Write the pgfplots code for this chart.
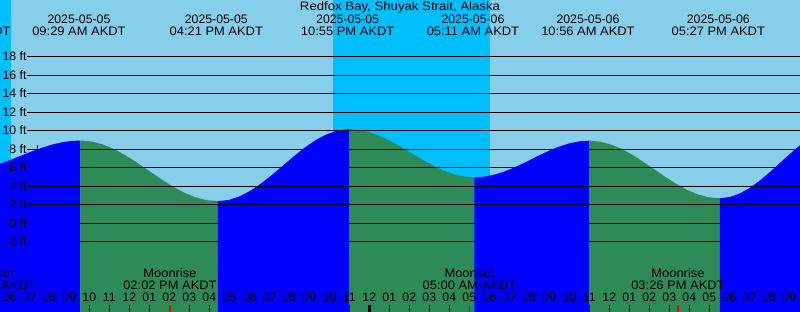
\documentclass[border=0pt]{standalone}
\usepackage{fontspec}
\setmainfont{Liberation Sans}
\usepackage{pgfplots}
\pgfplotsset{compat=1.18}
\definecolor{sky}{HTML}{87CEEB}
\definecolor{deep}{HTML}{00BFFF}
\definecolor{tideblue}{HTML}{0000FF}
\definecolor{tidegreen}{HTML}{2E8B57}
\tikzset{lbl/.style={font=\fontsize{12.3}{14}\selectfont, inner sep=0pt, anchor=base, text=black},
  lblw/.style={lbl, font=\fontsize{12.3}{14}\selectfont\addfontfeatures{FakeStretch=1.05}},
  lblt/.style={lbl, font=\fontsize{12.3}{14}\selectfont\addfontfeatures{FakeStretch=1.073}}}
\begin{document}
\begin{tikzpicture}
\useasboundingbox (0,0) rectangle (800pt,312pt);
\begin{axis}[at={(0,0)}, anchor=south west, scale only axis, width=800pt, height=312pt,
  xmin=5.535, xmax=45.535, ymin=-9.62, ymax=24.11, hide axis, clip=true]
% background and night
\addplot[fill=sky, draw=none] coordinates {(5,-10) (46,-10) (46,25) (5,25)};
\addplot[fill=deep, draw=none] coordinates {(5,-10) (6.085,-10) (6.085,25) (5,25)};
\addplot[fill=deep, draw=none] coordinates {(22.185,-10) (30.035,-10) (30.035,25) (22.185,25)};
% rising 0
\addplot[fill=tideblue, draw=none] coordinates {(3.670,-10) (3.670,5.650) (4.160,5.710) (4.651,5.880) (5.141,6.150) (5.631,6.490) (6.121,6.880) (6.612,7.300) (7.102,7.720) (7.592,8.100) (8.082,8.440) (8.573,8.700) (9.063,8.864) (9.553,8.920) (9.553,-10)};
% falling 1
\addplot[fill=tidegreen, draw=none] coordinates {(9.553,-10) (9.553,8.920) (10.125,8.808) (10.698,8.480) (11.270,7.960) (11.842,7.280) (12.414,6.489) (12.987,5.640) (13.559,4.791) (14.131,4.000) (14.703,3.320) (15.276,2.800) (15.848,2.472) (16.420,2.360) (16.420,-10)};
% rising 2
\addplot[fill=tideblue, draw=none] coordinates {(16.420,-10) (16.420,2.360) (16.967,2.492) (17.515,2.881) (18.062,3.499) (18.609,4.305) (19.156,5.243) (19.704,6.250) (20.251,7.257) (20.798,8.195) (21.345,9.001) (21.893,9.619) (22.440,10.008) (22.987,10.140) (22.987,-10)};
% falling 3
\addplot[fill=tidegreen, draw=none] coordinates {(22.987,-10) (22.987,10.140) (23.509,10.052) (24.031,9.792) (24.553,9.379) (25.076,8.840) (25.598,8.213) (26.120,7.540) (26.642,6.867) (27.164,6.240) (27.686,5.701) (28.209,5.288) (28.731,5.028) (29.253,4.940) (29.253,-10)};
% rising 4
\addplot[fill=tideblue, draw=none] coordinates {(29.253,-10) (29.253,4.940) (29.732,5.007) (30.211,5.205) (30.691,5.520) (31.170,5.930) (31.649,6.408) (32.128,6.920) (32.607,7.432) (33.087,7.910) (33.566,8.320) (34.045,8.635) (34.524,8.833) (35.003,8.900) (35.003,-10)};
% falling 5
\addplot[fill=tidegreen, draw=none] coordinates {(35.003,-10) (35.003,8.900) (35.546,8.794) (36.089,8.483) (36.632,7.988) (37.176,7.343) (37.719,6.591) (38.262,5.785) (38.805,4.979) (39.348,4.228) (39.891,3.582) (40.434,3.087) (40.977,2.776) (41.520,2.670) (41.520,-10)};
% rising 6
\addplot[fill=tideblue, draw=none] coordinates {(41.520,-10) (41.520,2.670) (42.024,2.810) (42.528,3.200) (43.033,3.810) (43.537,4.610) (44.041,5.530) (44.545,6.520) (45.049,7.510) (45.553,8.440) (46.058,9.230) (46.562,9.800) (46.562,-10)};
% grid lines
\addplot[black, line width=1pt] coordinates {(6.9,18) (46,18)};
\addplot[black, line width=1pt] coordinates {(6.9,16) (46,16)};
\addplot[black, line width=1pt] coordinates {(6.9,14) (46,14)};
\addplot[black, line width=1pt] coordinates {(6.9,12) (46,12)};
\addplot[black, line width=1pt] coordinates {(6.9,10) (46,10)};
\addplot[black, line width=1pt] coordinates {(6.9,8) (46,8)};
\addplot[black, line width=1pt] coordinates {(6.9,6) (46,6)};
\addplot[black, line width=1pt] coordinates {(6.9,4) (46,4)};
\addplot[black, line width=1pt] coordinates {(6.9,2) (46,2)};
\addplot[black, line width=1pt] coordinates {(6.9,0) (46,0)};
\addplot[black, line width=1pt] coordinates {(6.9,-2) (46,-2)};
\addplot[black, only marks, mark=+, mark size=4.5pt, line width=1pt] coordinates {(7.42,8.0)};
\foreach \v/\t in {18/18 ft,16/16 ft,14/14 ft,12/12 ft,10/10 ft,8/8 ft,6/6 ft,4/4 ft,2/2 ft,0/0 ft,-2/-2 ft}{
  \edef\temp{\noexpand\node[lbl, anchor=base east, yshift=-4.3pt] at (axis cs:6.87,\v) {\t};}
  \temp
}
\end{axis}
\begin{axis}[at={(0,0)}, anchor=south west, scale only axis, width=800pt, height=312pt,
  xmin=5.535, xmax=45.535, ymin=0, ymax=312, hide axis, clip=false]
\addplot[ycomb, mark=none, black, line width=1pt] coordinates {(6,7) (7,7) (8,7) (9,7) (10,7) (11,7) (12,7) (13,7) (14,7) (15,7) (16,7) (17,7) (18,7) (19,7) (20,7) (21,7) (22,7) (23,7) (25,7) (26,7) (27,7) (28,7) (29,7) (30,7) (31,7) (32,7) (33,7) (34,7) (35,7) (36,7) (37,7) (38,7) (39,7) (40,7) (41,7) (42,7) (43,7) (44,7) (45,7)};
\addplot[ycomb, mark=none, black, line width=2.5pt] coordinates {(24,7)};
\addplot[ycomb, mark=none, red, line width=1.3pt] coordinates {(14.033,7) (29.0,7) (39.433,7)};
% hour labels
\node[lbl] at (axis cs:6,10.7) {06};
\node[lbl] at (axis cs:7,10.7) {07};
\node[lbl] at (axis cs:8,10.7) {08};
\node[lbl] at (axis cs:9,10.7) {09};
\node[lbl] at (axis cs:10,10.7) {10};
\node[lbl] at (axis cs:11,10.7) {11};
\node[lbl] at (axis cs:12,10.7) {12};
\node[lbl] at (axis cs:13,10.7) {01};
\node[lbl] at (axis cs:14,10.7) {02};
\node[lbl] at (axis cs:15,10.7) {03};
\node[lbl] at (axis cs:16,10.7) {04};
\node[lbl] at (axis cs:17,10.7) {05};
\node[lbl] at (axis cs:18,10.7) {06};
\node[lbl] at (axis cs:19,10.7) {07};
\node[lbl] at (axis cs:20,10.7) {08};
\node[lbl] at (axis cs:21,10.7) {09};
\node[lbl] at (axis cs:22,10.7) {10};
\node[lbl] at (axis cs:23,10.7) {11};
\node[lbl] at (axis cs:24,10.7) {12};
\node[lbl] at (axis cs:25,10.7) {01};
\node[lbl] at (axis cs:26,10.7) {02};
\node[lbl] at (axis cs:27,10.7) {03};
\node[lbl] at (axis cs:28,10.7) {04};
\node[lbl] at (axis cs:29,10.7) {05};
\node[lbl] at (axis cs:30,10.7) {06};
\node[lbl] at (axis cs:31,10.7) {07};
\node[lbl] at (axis cs:32,10.7) {08};
\node[lbl] at (axis cs:33,10.7) {09};
\node[lbl] at (axis cs:34,10.7) {10};
\node[lbl] at (axis cs:35,10.7) {11};
\node[lbl] at (axis cs:36,10.7) {12};
\node[lbl] at (axis cs:37,10.7) {01};
\node[lbl] at (axis cs:38,10.7) {02};
\node[lbl] at (axis cs:39,10.7) {03};
\node[lbl] at (axis cs:40,10.7) {04};
\node[lbl] at (axis cs:41,10.7) {05};
\node[lbl] at (axis cs:42,10.7) {06};
\node[lbl] at (axis cs:43,10.7) {07};
\node[lbl] at (axis cs:44,10.7) {08};
\node[lbl] at (axis cs:45,10.7) {09};
% moon labels
\node[lblw] at (axis cs:4.985,34) {Moonset};
\node[lblw] at (axis cs:4.985,22.3) {04:59 AM AKDT};
\node[lblw] at (axis cs:14.033,34) {Moonrise};
\node[lblw] at (axis cs:14.033,22.3) {02:02 PM AKDT};
\node[lblw] at (axis cs:29.0,34) {Moonset};
\node[lblw] at (axis cs:29.0,22.3) {05:00 AM AKDT};
\node[lblw] at (axis cs:39.433,34) {Moonrise};
\node[lblw] at (axis cs:39.433,22.3) {03:26 PM AKDT};
% title and tide labels
\node[lblt] at (axis cs:25.535,301) {Redfox Bay, Shuyak Strait, Alaska};
\node[lbl] at (axis cs:3.733,288) {2025-05-05};
\node[lblw] at (axis cs:3.733,276) {03:44 AM AKDT};
\node[lbl] at (axis cs:9.483,288) {2025-05-05};
\node[lblw] at (axis cs:9.483,276) {09:29 AM AKDT};
\node[lbl] at (axis cs:16.35,288) {2025-05-05};
\node[lblw] at (axis cs:16.35,276) {04:21 PM AKDT};
\node[lbl] at (axis cs:22.917,288) {2025-05-05};
\node[lblw] at (axis cs:22.917,276) {10:55 PM AKDT};
\node[lbl] at (axis cs:29.183,288) {2025-05-06};
\node[lblw] at (axis cs:29.183,276) {05:11 AM AKDT};
\node[lbl] at (axis cs:34.933,288) {2025-05-06};
\node[lblw] at (axis cs:34.933,276) {10:56 AM AKDT};
\node[lbl] at (axis cs:41.45,288) {2025-05-06};
\node[lblw] at (axis cs:41.45,276) {05:27 PM AKDT};
\end{axis}
\end{tikzpicture}
\end{document}
